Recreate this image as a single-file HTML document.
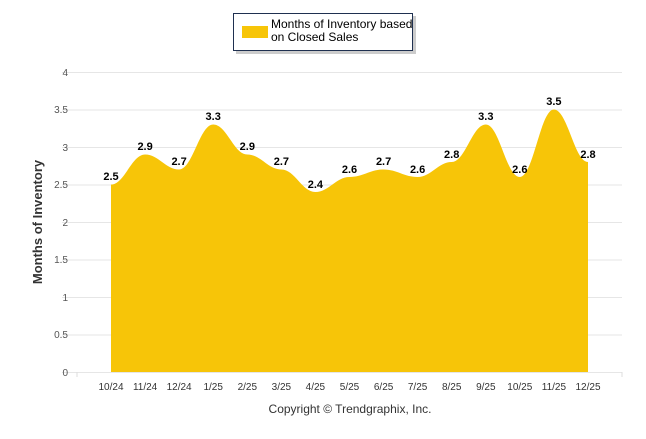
<!DOCTYPE html>
<html><head><style>body{margin:0;background:#fff}</style></head><body>
<svg width="646" height="434" xmlns="http://www.w3.org/2000/svg" font-family="Liberation Sans, sans-serif">
<rect width="646" height="434" fill="#fff"/>
<g stroke="#e6e6e6" stroke-width="1">
<line x1="62" x2="622" y1="72.5" y2="72.5"/><line x1="62" x2="622" y1="110" y2="110"/>
<line x1="62" x2="622" y1="147.5" y2="147.5"/><line x1="62" x2="622" y1="185" y2="185"/>
<line x1="62" x2="622" y1="222.5" y2="222.5"/><line x1="62" x2="622" y1="260" y2="260"/>
<line x1="62" x2="622" y1="297.5" y2="297.5"/><line x1="62" x2="622" y1="335" y2="335"/>
<line x1="62" x2="622" y1="372.5" y2="372.5"/>
</g>
<g fill="#555" font-size="10" text-anchor="end">
<text x="68" y="76">4</text><text x="68" y="113">3.5</text><text x="68" y="151">3</text>
<text x="68" y="188">2.5</text><text x="68" y="226">2</text><text x="68" y="263">1.5</text>
<text x="68" y="301">1</text><text x="68" y="338">0.5</text><text x="68" y="376">0</text>
</g>
<path fill="#f7c508" d="M111,372 L111,184.5 C124.6,184.5 131.5,154.5 145.1,154.5 C158.7,154.5 165.5,169.5 179.1,169.5 C192.7,169.5 199.6,124.5 213.2,124.5 C226.8,124.5 233.7,154.5 247.3,154.5 C260.9,154.5 267.8,169.5 281.4,169.5 C295,169.5 301.8,192 315.4,192 C329,192 335.9,177 349.5,177 C363.1,177 370,169.5 383.6,169.5 C397.2,169.5 404,177 417.6,177 C431.2,177 438.1,162 451.7,162 C465.3,162 472.2,124.5 485.8,124.5 C499.4,124.5 506.2,177 519.8,177 C533.4,177 540.3,109.5 553.9,109.5 C567.5,109.5 574.4,162 588,162 L588,372 Z"/>
<g stroke="#ddd"><line x1="77" x2="77" y1="372" y2="377"/><line x1="622" x2="622" y1="372" y2="377"/></g>
<g font-size="11" font-weight="bold" fill="#000" text-anchor="middle">
<text x="111" y="180">2.5</text><text x="145.1" y="150">2.9</text><text x="179.1" y="165">2.7</text>
<text x="213.2" y="120">3.3</text><text x="247.3" y="150">2.9</text><text x="281.4" y="165">2.7</text>
<text x="315.4" y="188">2.4</text><text x="349.5" y="173">2.6</text><text x="383.6" y="165">2.7</text>
<text x="417.6" y="173">2.6</text><text x="451.7" y="158">2.8</text><text x="485.8" y="120">3.3</text>
<text x="519.8" y="173">2.6</text><text x="553.9" y="105">3.5</text><text x="588" y="158">2.8</text>
</g>
<g font-size="10" fill="#333" text-anchor="middle">
<text x="111" y="390">10/24</text><text x="145.1" y="390">11/24</text><text x="179.1" y="390">12/24</text>
<text x="213.2" y="390">1/25</text><text x="247.3" y="390">2/25</text><text x="281.4" y="390">3/25</text>
<text x="315.4" y="390">4/25</text><text x="349.5" y="390">5/25</text><text x="383.6" y="390">6/25</text>
<text x="417.6" y="390">7/25</text><text x="451.7" y="390">8/25</text><text x="485.8" y="390">9/25</text>
<text x="519.8" y="390">10/25</text><text x="553.9" y="390">11/25</text><text x="588" y="390">12/25</text>
</g>
<text x="350" y="413" font-size="12" fill="#333" text-anchor="middle">Copyright © Trendgraphix, Inc.</text>
<text transform="translate(42,222) rotate(-90)" font-size="13" font-weight="bold" fill="#333" text-anchor="middle">Months of Inventory</text>
<rect x="236" y="16" width="180" height="38" fill="#999" opacity="0.5"/>
<rect x="233.5" y="13.5" width="179" height="37" fill="#fff" stroke="#1f3050" stroke-width="1"/>
<rect x="242" y="26" width="26" height="12" fill="#f7c508"/>
<text x="271" y="28" font-size="12" fill="#000">Months of Inventory based</text>
<text x="271" y="41" font-size="12" fill="#000">on Closed Sales</text>
</svg>
</body></html>
